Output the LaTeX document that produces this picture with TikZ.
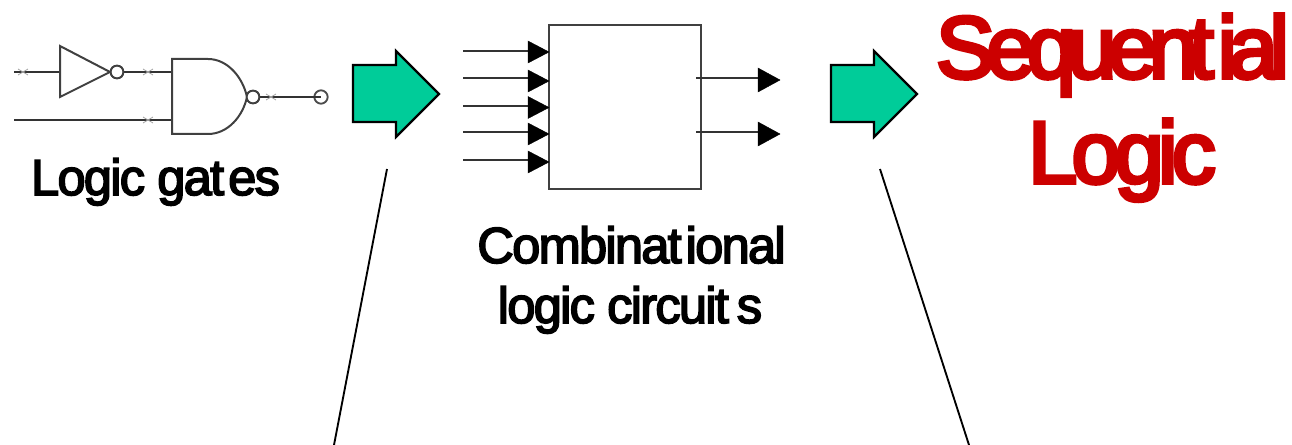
\documentclass[tikz,border=0pt]{standalone}
\usepackage{fontspec}
\setmainfont{Liberation Sans}
\newfontfamily\tightfont[LetterSpace=-3.5,FakeBold=3.2]{Liberation Sans}
\newfontfamily\tightbig[LetterSpace=-9.5,FakeBold=4.5]{Liberation Sans}
\newfontfamily\tightlogic[LetterSpace=-6.5,FakeBold=4.5]{Liberation Sans}
\definecolor{teal}{HTML}{00CC99}
\definecolor{seqred}{HTML}{CC0000}
\tikzset{
  x=0.75pt,y=-0.75pt,
  wire/.style={draw=black!80,line width=1.6pt},
  gate/.style={draw=black!75,line width=1.5pt,fill=white},
  bub/.style={circle,draw=black!75,line width=1.4pt,fill=white,inner sep=0pt,minimum size=9.5pt},
  tick/.style={draw=black!35,line width=0.6pt},
  head/.style={fill=black,draw=black,line width=0.3pt},
  lbl/.style={inner sep=0pt,anchor=base,font=\tightfont\fontsize{38}{42}\selectfont,text=black},
  seq/.style={inner sep=0pt,anchor=base,font=\tightbig\fontsize{66}{70}\selectfont,text=seqred},
  seqb/.style={inner sep=0pt,anchor=base,font=\tightlogic\fontsize{66}{70}\selectfont,text=seqred},
  ptr/.style={draw=black,line width=1.7pt,fill=teal,line join=miter},
  leader/.style={draw=black,line width=1.4pt}
}
\newcommand{\xmark}[2]{\draw[tick] (#1-5,#2-3)--(#1+5,#2+3) (#1-5,#2+3)--(#1+5,#2-3);}
\newcommand{\ptrshape}[1]{\path[ptr] (#1,65)--(#1+43,65)--(#1+43,51)--(#1+86,94)--(#1+43,137)--(#1+43,122)--(#1,122)--cycle;}
\begin{document}
\begin{tikzpicture}
\useasboundingbox (0,0) rectangle (1292,445);
% Logic gates
\coordinate (a1) at (14,72);
\coordinate (b1) at (14,120);
\coordinate (invin) at (60,72);
\coordinate (nandA) at (172,72);
\coordinate (nandB) at (172,120);
\node[bub] (bub1) at (117,72) {};
\node[bub] (bub2) at (253,97) {};
\node[circle,draw=black!70,line width=1.4pt,inner sep=0pt,minimum size=10pt] (outc) at (321,97) {};
\draw[wire] (a1)--(invin);
\draw[wire] (b1)--(nandB);
\draw[wire] (bub1)--(nandA);
\draw[wire] (bub2)--(outc.center);
\path[gate] (60,46)--(110,72)--(60,97)--cycle;
\path[gate] (172,59)--(208,59) .. controls (228,59) and (243,78) .. (247,97) .. controls (243,116) and (228,134) .. (208,134)--(172,134)--cycle;
\node[bub] at (117,72) {};
\node[bub] at (253,97) {};
\xmark{23}{72}\xmark{148}{72}\xmark{148}{120}\xmark{271}{97}
\node[lbl] (l1) at (155.5,195) {Logic gat\kern3pt es};
% arrows
\ptrshape{353}
\ptrshape{831}
% box
\node[draw=black!75,line width=1.5pt,outer sep=0pt,minimum width=114pt,minimum height=123pt,inner sep=0pt,anchor=north west] (box) at (549,25) {};
\foreach \y/\t in {51/52,78/81,106/107.5,132/134,160/162}{
  \coordinate (i\y) at (463,\y);
  \coordinate (e\y) at (530,\y);
  \draw[wire] (i\y)--(e\y);
  \path[head] (528,\t-11)--(549,\t)--(528,\t+11)--cycle;
}
\foreach \y/\t in {78/80,132/134}{
  \coordinate (o\y) at (696,\y);
  \coordinate (f\y) at (760,\y);
  \draw[wire] (o\y)--(f\y);
  \path[head] (758,\t-12)--(780,\t)--(758,\t+12)--cycle;
}
\node[lbl] (l2) at (631.5,263) {Combinat\kern3pt ional};
\node[lbl] (l3) at (630,323) {logic circuit\kern6pt s};
\node[seq] (s1) at (1112.5,78) {Sequent\kern3pt ial};
\node[seqb] (s2) at (1122,183) {Logic};
% leaders
\coordinate (p1) at (387,169);
\coordinate (p2) at (334,445);
\coordinate (q1) at (880,169);
\coordinate (q2) at (969,445);
\draw[leader] (p1)--(p2);
\draw[leader] (q1)--(q2);
\end{tikzpicture}
\end{document}
